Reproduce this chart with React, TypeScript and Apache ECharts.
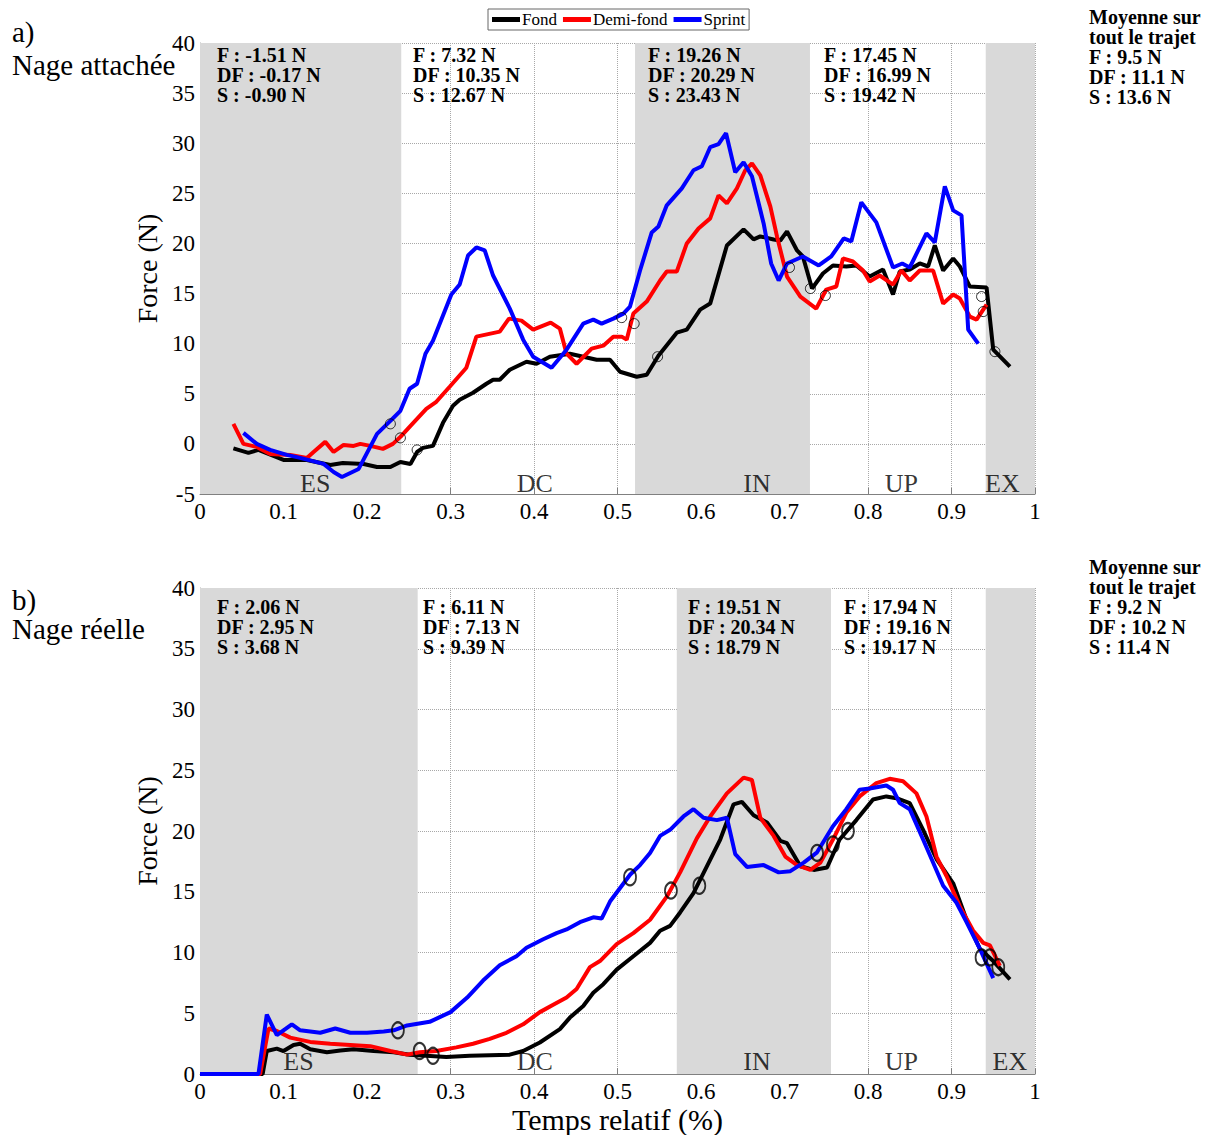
import React, { useEffect, useRef } from "react";
import * as echarts from "echarts";

// ---------- DATA ----------
const seriesNames = ["Fond", "Demi-fond", "Sprint"];
const seriesColors = ["#000000", "#ff0000", "#0000ff"];

const topFond = [[0.040,-0.45],[0.058,-0.9],[0.070,-0.6],[0.085,-1.1],[0.100,-1.6],[0.128,-1.6],[0.156,-2.1],[0.171,-1.9],[0.196,-2.0],[0.212,-2.3],[0.228,-2.3],[0.240,-1.8],[0.252,-2.0],[0.260,-0.8],[0.267,-0.4],[0.279,-0.2],[0.291,2.1],[0.303,3.8],[0.311,4.4],[0.327,5.1],[0.343,6.0],[0.351,6.4],[0.359,6.4],[0.371,7.4],[0.391,8.2],[0.403,8.0],[0.419,8.7],[0.443,9.0],[0.459,8.7],[0.475,8.4],[0.491,8.4],[0.503,7.2],[0.523,6.7],[0.535,6.9],[0.549,8.8],[0.571,11.1],[0.583,11.4],[0.599,13.4],[0.611,14.0],[0.631,19.8],[0.651,21.4],[0.663,20.4],[0.671,20.7],[0.687,20.4],[0.695,20.3],[0.703,21.2],[0.715,19.3],[0.722,18.7],[0.733,15.5],[0.746,17.0],[0.758,17.8],[0.774,17.7],[0.786,17.8],[0.802,16.7],[0.818,17.4],[0.830,14.9],[0.838,17.2],[0.850,17.4],[0.862,18.0],[0.872,17.7],[0.880,19.8],[0.890,17.3],[0.902,18.5],[0.910,17.7],[0.922,15.7],[0.942,15.6],[0.950,9.4],[0.970,7.7]];
const topDemiFond = [[0.040,2.0],[0.052,0.0],[0.068,-0.3],[0.084,-1.0],[0.108,-1.1],[0.128,-1.4],[0.136,-0.8],[0.150,0.2],[0.160,-0.8],[0.172,-0.1],[0.184,-0.2],[0.192,0.0],[0.204,-0.2],[0.219,-0.5],[0.231,0.0],[0.240,0.7],[0.251,1.7],[0.271,3.5],[0.283,4.2],[0.299,5.7],[0.319,7.6],[0.331,10.7],[0.359,11.2],[0.370,12.5],[0.385,12.3],[0.399,11.4],[0.420,12.1],[0.431,11.5],[0.439,9.0],[0.451,8.0],[0.469,9.5],[0.483,9.8],[0.495,10.7],[0.505,10.7],[0.511,10.4],[0.519,13.0],[0.535,14.2],[0.551,16.3],[0.559,17.2],[0.571,17.2],[0.583,20.0],[0.597,21.5],[0.611,22.5],[0.621,24.8],[0.631,24.0],[0.643,25.5],[0.653,27.3],[0.661,28.0],[0.671,26.8],[0.683,23.7],[0.691,20.7],[0.703,16.7],[0.719,14.7],[0.738,13.5],[0.750,15.4],[0.762,15.7],[0.770,18.5],[0.782,18.2],[0.794,17.3],[0.802,16.2],[0.814,16.8],[0.830,15.9],[0.840,17.3],[0.850,16.3],[0.862,17.3],[0.878,17.3],[0.890,14.0],[0.902,14.9],[0.910,14.5],[0.922,12.7],[0.930,12.4],[0.942,13.9]];
const topSprint = [[0.052,1.1],[0.068,0.0],[0.084,-0.6],[0.104,-1.1],[0.120,-1.4],[0.148,-2.0],[0.160,-2.8],[0.170,-3.3],[0.190,-2.5],[0.212,1.0],[0.228,2.3],[0.240,3.3],[0.251,5.5],[0.260,6.0],[0.270,9.0],[0.279,10.3],[0.301,14.9],[0.311,15.9],[0.321,18.8],[0.331,19.6],[0.341,19.3],[0.351,16.8],[0.371,13.5],[0.387,10.4],[0.399,8.7],[0.421,7.6],[0.439,9.4],[0.459,12.0],[0.471,12.4],[0.481,12.0],[0.495,12.5],[0.507,13.0],[0.515,13.7],[0.527,17.3],[0.541,21.1],[0.549,21.7],[0.559,23.8],[0.577,25.5],[0.591,27.3],[0.601,27.7],[0.611,29.6],[0.621,29.9],[0.630,31.0],[0.641,27.1],[0.651,28.1],[0.661,26.7],[0.675,22.0],[0.684,18.0],[0.693,16.3],[0.703,18.0],[0.722,18.7],[0.741,17.8],[0.756,18.7],[0.771,20.5],[0.780,20.2],[0.792,24.1],[0.810,22.1],[0.830,17.6],[0.841,18.0],[0.850,17.6],[0.870,21.0],[0.880,20.1],[0.892,25.7],[0.902,23.3],[0.912,22.8],[0.920,11.4],[0.932,10.0]];
const topMarkers = [[0.228,2.0],[0.240,0.6],[0.260,-0.6],[0.505,12.6],[0.520,12.0],[0.548,8.7],[0.706,17.6],[0.731,15.5],[0.749,14.8],[0.936,14.7],[0.938,13.2],[0.952,9.2]];

const botFond = [[0,0],[0.075,0],[0.080,1.9],[0.092,2.1],[0.100,1.9],[0.112,2.4],[0.120,2.5],[0.132,2.05],[0.152,1.8],[0.168,1.95],[0.184,2.05],[0.208,1.9],[0.232,1.8],[0.251,1.6],[0.271,1.5],[0.295,1.4],[0.323,1.5],[0.347,1.55],[0.371,1.6],[0.387,1.9],[0.407,2.6],[0.431,3.7],[0.443,4.65],[0.459,5.6],[0.471,6.7],[0.483,7.4],[0.499,8.6],[0.519,9.7],[0.539,10.8],[0.551,11.8],[0.563,12.2],[0.575,13.3],[0.591,14.9],[0.607,17.1],[0.623,19.3],[0.639,22.2],[0.649,22.4],[0.663,21.3],[0.679,20.7],[0.695,19.2],[0.703,19.0],[0.719,17.1],[0.735,16.8],[0.751,17.0],[0.766,19.3],[0.786,20.9],[0.806,22.6],[0.822,22.85],[0.834,22.7],[0.850,22.3],[0.866,20.1],[0.882,17.7],[0.902,15.7],[0.918,12.7],[0.934,10.3],[0.950,9.3],[0.970,7.8]];
const botDemiFond = [[0,0],[0.072,0],[0.082,3.75],[0.092,3.55],[0.108,3.0],[0.132,2.65],[0.156,2.5],[0.180,2.4],[0.204,2.3],[0.228,1.9],[0.248,1.6],[0.263,1.8],[0.283,1.9],[0.307,2.2],[0.327,2.5],[0.347,2.9],[0.367,3.4],[0.387,4.1],[0.407,5.1],[0.423,5.7],[0.439,6.3],[0.451,7.0],[0.467,8.8],[0.479,9.3],[0.499,10.7],[0.519,11.6],[0.539,12.7],[0.559,14.6],[0.575,16.6],[0.595,19.4],[0.611,21.2],[0.631,23.1],[0.651,24.4],[0.661,24.2],[0.671,21.1],[0.687,19.6],[0.701,17.9],[0.715,17.2],[0.731,16.8],[0.743,17.4],[0.758,19.3],[0.774,21.5],[0.790,22.85],[0.810,23.95],[0.826,24.3],[0.842,24.1],[0.858,23.1],[0.870,21.2],[0.882,17.9],[0.894,16.3],[0.910,13.8],[0.926,11.8],[0.938,10.8],[0.946,10.6],[0.958,8.9]];
const botSprint = [[0,0],[0.070,0],[0.080,4.9],[0.092,3.2],[0.110,4.1],[0.120,3.6],[0.144,3.4],[0.162,3.75],[0.180,3.4],[0.200,3.4],[0.220,3.5],[0.232,3.6],[0.248,4.0],[0.275,4.3],[0.300,5.1],[0.320,6.3],[0.339,7.7],[0.359,8.95],[0.379,9.7],[0.391,10.4],[0.411,11.1],[0.427,11.6],[0.439,11.9],[0.455,12.5],[0.471,12.9],[0.481,12.8],[0.491,14.2],[0.515,16.4],[0.527,17.2],[0.539,18.2],[0.551,19.6],[0.563,20.1],[0.579,21.2],[0.591,21.8],[0.603,21.1],[0.619,20.9],[0.631,21.1],[0.641,18.1],[0.655,17.05],[0.675,17.2],[0.693,16.6],[0.707,16.7],[0.723,17.4],[0.739,18.25],[0.758,20.4],[0.774,21.8],[0.790,23.4],[0.802,23.5],[0.822,23.75],[0.830,23.4],[0.838,22.3],[0.850,21.8],[0.866,19.3],[0.890,15.5],[0.906,14.1],[0.918,12.5],[0.934,10.3],[0.950,7.9]];
const botMarkers = [[0.237,3.6],[0.263,1.9],[0.279,1.5],[0.515,16.2],[0.564,15.1],[0.598,15.5],[0.739,18.2],[0.758,18.9],[0.776,20.0],[0.936,9.6],[0.946,9.6],[0.956,8.8]];

const phaseNames = ["ES", "DC", "IN", "UP", "EX"];
const topPhaseBounds = [[0, 0.241], [0.521, 0.7305], [0.941, 1]];
const botPhaseBounds = [[0, 0.2607], [0.571, 0.7557], [0.941, 1]];
const topPhaseLabelX = [0.138, 0.401, 0.667, 0.840, 0.961];
const botPhaseLabelX = [0.118, 0.401, 0.667, 0.840, 0.970];

const topPhaseMeans = {
  F: ["-1.51", "7.32", "19.26", "17.45"],
  DF: ["-0.17", "10.35", "20.29", "16.99"],
  S: ["-0.90", "12.67", "23.43", "19.42"],
};
const botPhaseMeans = {
  F: ["2.06", "6.11", "19.51", "17.94"],
  DF: ["2.95", "7.13", "20.34", "19.16"],
  S: ["3.68", "9.39", "18.79", "19.17"],
};
const topOverall = { F: "9.5", DF: "11.1", S: "13.6" };
const botOverall = { F: "9.2", DF: "10.2", S: "11.4" };

// ---------- LAYOUT ----------
const FONT = '"Liberation Serif", "Times New Roman", serif';
const topGrid = { left: 200, top: 43, width: 835, height: 451 };
const botGrid = { left: 200, top: 588, width: 835, height: 487 };
const topBlockX = [217, 413, 648, 824];
const botBlockX = [217, 423, 688, 844];

function txt(text, x, y, size, bold = false, align = "left") {
  return {
    type: "text",
    x,
    y,
    z: 100,
    style: {
      text,
      fontSize: size,
      fontWeight: bold ? "bold" : "normal",
      fontFamily: FONT,
      fill: "#000",
      align,
      verticalAlign: "middle",
    },
  };
}

function blockTexts(xs, y0, means) {
  const out = [];
  xs.forEach((x, i) => {
    out.push(txt(`F : ${means.F[i]} N`, x, y0, 20, true));
    out.push(txt(`DF : ${means.DF[i]} N`, x, y0 + 20, 20, true));
    out.push(txt(`S : ${means.S[i]} N`, x, y0 + 40, 20, true));
  });
  return out;
}

function overallTexts(y0, o) {
  return [
    {
      type: "text",
      x: 1089,
      y: y0 - 11,
      z: 100,
      style: {
        text: "Moyenne sur\ntout le trajet",
        fontSize: 20,
        lineHeight: 20,
        fontWeight: "bold",
        fontFamily: FONT,
        fill: "#000",
        align: "left",
        verticalAlign: "top",
      },
    },
    txt(`F : ${o.F} N`, 1089, y0 + 39, 20, true),
    txt(`DF : ${o.DF} N`, 1089, y0 + 59, 20, true),
    txt(`S : ${o.S} N`, 1089, y0 + 79, 20, true),
  ];
}

function makeXAxis(gridIndex, withName) {
  return {
    type: "value",
    gridIndex,
    min: 0,
    max: 1,
    interval: 0.1,
    name: withName ? "Temps relatif (%)" : "",
    nameLocation: "middle",
    nameGap: 28,
    nameTextStyle: { fontFamily: FONT, fontSize: 30, color: "#000" },
    axisLine: { show: true, onZero: false, lineStyle: { color: "#808080", width: 1 } },
    axisTick: { show: true, inside: true, length: 6, lineStyle: { color: "#808080" } },
    axisLabel: {
      fontFamily: FONT,
      fontSize: 23,
      color: "#000",
      margin: 6,
      formatter: (v) => String(Math.round(v * 10) / 10),
    },
    splitLine: { show: true, lineStyle: { type: "dotted", color: "#a8a8a8", width: 1 } },
  };
}

function makeYAxis(gridIndex, min, max) {
  return {
    type: "value",
    gridIndex,
    min,
    max,
    interval: 5,
    name: "Force (N)",
    nameLocation: "middle",
    nameGap: 34,
    nameTextStyle: { fontFamily: FONT, fontSize: 28, color: "#000" },
    axisLine: { show: true, lineStyle: { color: "#a0a0a0", width: 1 } },
    axisTick: { show: true, inside: true, length: 6, lineStyle: { color: "#808080" } },
    axisLabel: { fontFamily: FONT, fontSize: 23, color: "#000", margin: 5 },
    splitLine: { show: true, lineStyle: { type: "dotted", color: "#a8a8a8", width: 1 } },
  };
}

function shadeSeries(idx, bounds) {
  return {
    type: "line",
    xAxisIndex: idx,
    yAxisIndex: idx,
    data: [],
    z: -1,
    silent: true,
    markArea: {
      silent: true,
      itemStyle: { color: "#d9d9d9" },
      data: bounds.map((b) => [{ xAxis: b[0] }, { xAxis: b[1] }]),
    },
  };
}

function lineSeries(idx, name, color, data) {
  return {
    type: "line",
    name,
    xAxisIndex: idx,
    yAxisIndex: idx,
    data,
    showSymbol: false,
    symbol: "none",
    lineStyle: { color, width: 4 },
    itemStyle: { color },
    z: 3,
  };
}

function phaseLabelSeries(idx, xs, y) {
  return {
    type: "scatter",
    xAxisIndex: idx,
    yAxisIndex: idx,
    symbolSize: 0,
    silent: true,
    z: 4,
    data: xs.map((x, i) => ({ value: [x, y], name: phaseNames[i] })),
    label: {
      show: true,
      position: "inside",
      formatter: (p) => p.name,
      fontFamily: FONT,
      fontSize: 26,
      color: "#000",
    },
  };
}

function markerSeries(idx, data, size, bw) {
  return {
    type: "scatter",
    xAxisIndex: idx,
    yAxisIndex: idx,
    data,
    symbol: "circle",
    symbolSize: size,
    itemStyle: { color: "rgba(0,0,0,0)", borderColor: "#000", borderWidth: bw },
    z: 5,
    silent: true,
  };
}

export default function App() {
  const ref = useRef(null);
  useEffect(() => {
    document.body.style.margin = "0";
    const chart = echarts.init(ref.current, null, { renderer: "svg" });
    const option = {
      animation: false,
      backgroundColor: "#ffffff",
      grid: [
        { ...topGrid, containLabel: false },
        { ...botGrid, containLabel: false },
      ],
      legend: {
        data: seriesNames,
        left: 488,
        top: 9,
        icon: "rect",
        itemWidth: 28,
        itemHeight: 5,
        itemGap: 6,
        padding: [2, 4, 2, 4],
        borderColor: "#666",
        borderWidth: 1,
        textStyle: { fontFamily: FONT, fontSize: 17, color: "#000", padding: [0, 0, 0, -3] },
        selectedMode: false,
      },
      xAxis: [makeXAxis(0, false), makeXAxis(1, true)],
      yAxis: [makeYAxis(0, -5, 40), makeYAxis(1, 0, 40)],
      series: [
        shadeSeries(0, topPhaseBounds),
        shadeSeries(1, botPhaseBounds),
        lineSeries(0, seriesNames[0], seriesColors[0], topFond),
        lineSeries(0, seriesNames[1], seriesColors[1], topDemiFond),
        lineSeries(0, seriesNames[2], seriesColors[2], topSprint),
        lineSeries(1, seriesNames[0], seriesColors[0], botFond),
        lineSeries(1, seriesNames[1], seriesColors[1], botDemiFond),
        lineSeries(1, seriesNames[2], seriesColors[2], botSprint),
        markerSeries(0, topMarkers, 10, 1),
        markerSeries(1, botMarkers, [12, 16], 2),
        phaseLabelSeries(0, topPhaseLabelX, -4.0),
        phaseLabelSeries(1, botPhaseLabelX, 1.07),
      ],
      graphic: [
        txt("a)", 12, 32, 29),
        txt("Nage attachée", 12, 65, 29),
        txt("b)", 12, 600, 29),
        txt("Nage réelle", 12, 629, 29),
        ...blockTexts(topBlockX, 55, topPhaseMeans),
        ...blockTexts(botBlockX, 607, botPhaseMeans),
        ...overallTexts(18, topOverall),
        ...overallTexts(568, botOverall),
      ],
    };
    chart.setOption(option);
    return () => chart.dispose();
  }, []);
  return <div ref={ref} style={{ width: 1214, height: 1135 }} />;
}
